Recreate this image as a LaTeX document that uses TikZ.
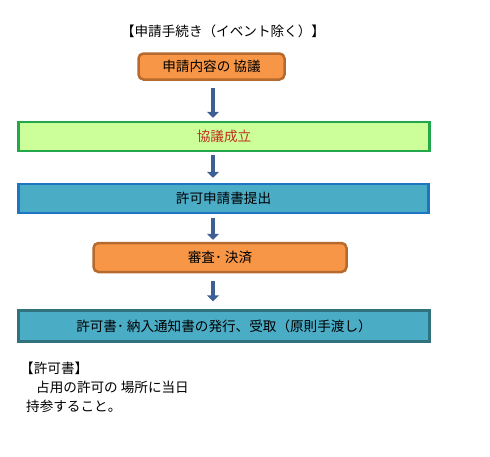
\documentclass[tikz,border=0pt]{standalone}
\usepackage{fontspec}
\setmainfont{Noto Sans CJK JP}
\usetikzlibrary{arrows.meta}
\definecolor{boxOrange}{HTML}{F79646}
\definecolor{edgeOrange}{HTML}{B66A2E}
\definecolor{boxGreen}{HTML}{CCFF99}
\definecolor{edgeGreen}{HTML}{22A84A}
\definecolor{boxBlue}{HTML}{4BACC6}
\definecolor{edgeBlue}{HTML}{1F74C4}
\definecolor{edgeTeal}{HTML}{31727F}
\definecolor{arrowBlue}{HTML}{3D5F94}
\definecolor{textRed}{HTML}{C0301E}
\begin{document}
\begin{tikzpicture}
        [x=1pt, y=-1pt,
        every node/.style={font=\fontsize{13.6}{15}\selectfont, inner sep=0pt},
        box/.style={rectangle, draw, line width=2.5pt, minimum height=29pt},
        boxOr/.style={box, rounded corners=5pt, fill=boxOrange, draw=edgeOrange},
        flow/.style={-{Triangle[width=12pt,length=6pt]}, line width=4.5pt, draw=arrowBlue}]
        \useasboundingbox (0,0) rectangle (490,456);
        \node (title) at (223,31) {【申請手続き（イベント除く）】};
        \node[boxOr, minimum width=146pt, minimum height=26pt] (B1) at (211.5,66.5) {申請内容の 協議};
        \node[box, minimum width=411pt, fill=boxGreen, draw=edgeGreen, text=textRed] (B2) at (224,136.5) {協議成立};
        \node[box, minimum width=410pt, fill=boxBlue, draw=edgeBlue] (B3) at (223.5,198.5) {許可申請書提出};
        \node[boxOr, minimum width=253pt] (B4) at (220,257.5) {審査･ 決済};
        \node[box, minimum width=411pt, minimum height=31pt, fill=boxBlue, draw=edgeTeal] (B5) at (224,326) {許可書･ 納入通知書の発行、受取（原則手渡し）};
        \node[anchor=west] (N1) at (20,368) {【許可書】};
        \node[anchor=west] (N2) at (36,387) {占用の許可の 場所に当日};
        \node[anchor=west] (N3) at (26,406) {持参すること。};
        
        \coordinate (ax) at (213,0);
        \draw[flow, shorten <=7pt, shorten >=3pt] (B1.south -| ax) -- (B2.north -| ax);
        \draw[flow, shorten <=3pt, shorten >=5pt] (B2.south -| ax) -- (B3.north -| ax);
        \draw[flow, shorten <=4pt, shorten >=2pt] (B3.south -| ax) -- (B4.north -| ax);
        \draw[flow, shorten <=8pt, shorten >=8pt] (B4.south -| ax) -- (B5.north -| ax);
    \end{tikzpicture}
\end{document}
